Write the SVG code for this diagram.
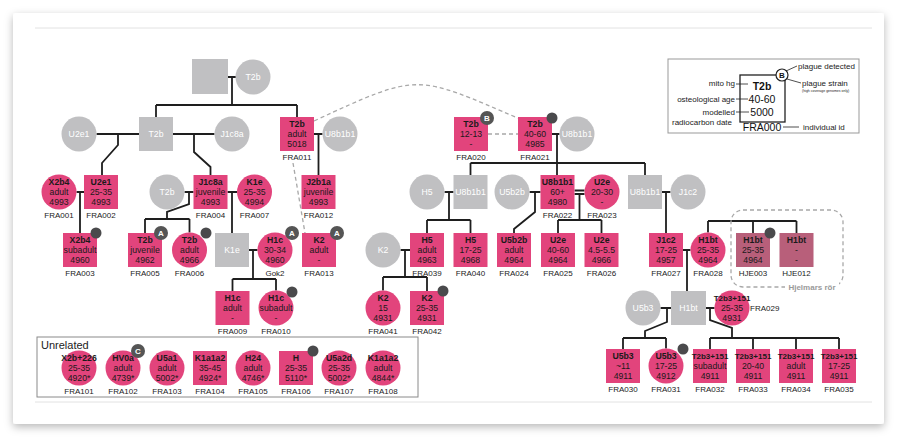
<svg xmlns="http://www.w3.org/2000/svg" width="897" height="440" viewBox="0 0 897 440">
<defs>
<filter id="sh" x="-5%" y="-5%" width="110%" height="115%"><feDropShadow dx="0" dy="3" stdDeviation="4" flood-color="#000" flood-opacity="0.28"/></filter>
</defs>
<style>
text{font-family:"Liberation Sans",Arial,sans-serif}
.t{font-size:8.7px;text-anchor:middle;fill:#1a1a1a}
.b{font-weight:bold}
.s{font-size:8px}
.g{fill:#c0c0c2}
.gt{font-size:8.7px;text-anchor:middle;fill:#fff}
.p{fill:#e2447c}
.h{fill:#b85f7a}
.l{font-size:8px;text-anchor:middle;fill:#222}
.dot{fill:#4a4a4c}
.bd{fill:#555}
.bt{font-size:8px;font-weight:bold;fill:#fff;text-anchor:middle}
.c path{stroke:#1e1e1e;stroke-width:1.8;fill:none}
.c path.ds{stroke:#a8a8a8;stroke-width:1.3;stroke-dasharray:4 3}
.lg{font-size:8px;fill:#222}
.ll{stroke:#222;stroke-width:0.8;fill:none}
</style>
<rect width="897" height="440" fill="#fff"/>
<rect x="13" y="13" width="871" height="411" rx="3" fill="#fff" filter="url(#sh)"/>
<line x1="35" y1="28" x2="872" y2="28" stroke="#e2e2e2" stroke-width="1"/>
<line x1="35" y1="402" x2="872" y2="402" stroke="#e2e2e2" stroke-width="1"/>

<g id="connectors" class="c">
<path d="M228,77H236M232,77V105M156,105H297M156,105V117M297,105V117"/>
<path d="M96.5,134H139M118,134V145L102,163V175"/>
<path d="M173,134H214.5M194,134V152L210.5,167V175"/>
<path d="M314,134H322.5M318.5,134V175"/>
<path class="ds" d="M293,163L305,233"/>
<path class="ds" d="M314,121C420,72 415,74 520,119"/>
<path class="ds" d="M488,134H518"/>
<path d="M552,134H559.5M557,134V175M470.5,163H645M470.5,163V175M645,163V175"/>
<path d="M76.5,192H84M80,192V233"/>
<path d="M184.5,192H193.5M189,192V204L167,212V219M145,219H189.5M145,219V233M189.5,219V232.5"/>
<path d="M227.5,192H237M232,192V233"/>
<path d="M249,250H257.5M253,250V279M232.5,279H276M232.5,279V291M276,279V290.5"/>
<path d="M444.5,192H453.5M449,192V220M427,220H470.5M427,220V233M470.5,220V233"/>
<path d="M529.5,192H540.5M535,192V212L514,229V233"/>
<path d="M574.5,190.5H584.5M574.5,194H584.5M579.5,194V220M558,220H601.5M558,220V233M601.5,220V233"/>
<path d="M662,192H670.5M666,192V233"/>
<path d="M683,250H690.5M687,250V291"/>
<path d="M708,221H796.5M708,221V232.5M753,221V233M796.5,221V233"/>
<path d="M400.5,250H410M405,250V277M383,277H427M383,277V290.5M427,277V291"/>
<path d="M660.5,308H671M667,308V322L645,331V338M623,338H666M623,338V349M666,338V348.5"/>
<path d="M706,308H714.5M710,308V320L732,328V338M710,338H839M710,338V349M753,338V349M796,338V349M839,338V349"/>
</g>

<g id="n-top-m"><rect class="g" x="192" y="59" width="36" height="35"/></g>
<g id="n-top-f"><circle class="g" cx="253" cy="77" r="17.5"/><text class="gt" x="253" y="80">T2b</text></g>

<g id="n-u2e1"><circle class="g" cx="79" cy="134" r="17.5"/><text class="gt" x="79" y="137">U2e1</text></g>
<g id="n-t2b-sq"><rect class="g" x="139" y="117" width="34" height="34"/><text class="gt" x="156" y="137">T2b</text></g>
<g id="n-j1c8a"><circle class="g" cx="232" cy="134" r="17.5"/><text class="gt" x="232" y="137">J1c8a</text></g>
<g id="FRA011"><rect class="p" x="280" y="117" width="34" height="34"/><text class="t b" x="297" y="127">T2b</text><text class="t" x="297" y="137">adult</text><text class="t" x="297" y="147">5018</text><text class="l" x="297" y="160">FRA011</text></g>
<g id="n-u8b1b1-a"><circle class="g" cx="340" cy="134" r="17.5"/><text class="gt" x="340" y="137">U8b1b1</text></g>
<g id="FRA020"><rect class="p" x="454" y="117" width="34" height="34"/><text class="t b" x="471" y="127">T2b</text><text class="t" x="471" y="137">12-13</text><text class="t" x="471" y="147">-</text><text class="l" x="471" y="160">FRA020</text><circle class="bd" cx="487" cy="118" r="7"/><text class="bt" x="487" y="121">B</text></g>
<g id="FRA021"><rect class="p" x="518" y="117" width="34" height="34"/><text class="t b" x="535" y="127">T2b</text><text class="t" x="535" y="137">40-60</text><text class="t" x="535" y="147">4985</text><text class="l" x="535" y="160">FRA021</text><circle class="dot" cx="552" cy="118" r="5.5"/></g>
<g id="n-u8b1b1-b"><circle class="g" cx="577" cy="134" r="17.5"/><text class="gt" x="577" y="137">U8b1b1</text></g>

<g id="FRA001"><circle class="p" cx="59" cy="192" r="17.5"/><text class="t b" x="59" y="185">X2b4</text><text class="t" x="59" y="195">adult</text><text class="t" x="59" y="205">4993</text><text class="l" x="59" y="218">FRA001</text></g>
<g id="FRA002"><rect class="p" x="84" y="175" width="34" height="34"/><text class="t b" x="101" y="185">U2e1</text><text class="t" x="101" y="195">25-35</text><text class="t" x="101" y="205">4993</text><text class="l" x="101" y="218">FRA002</text></g>
<g id="n-t2b-c"><circle class="g" cx="167" cy="192" r="17.5"/><text class="gt" x="167" y="195">T2b</text></g>
<g id="FRA004"><rect class="p" x="193.5" y="175" width="34" height="34"/><text class="t b" x="210.5" y="185">J1c8a</text><text class="t" x="210.5" y="195">juvenile</text><text class="t" x="210.5" y="205">4993</text><text class="l" x="210.5" y="218">FRA004</text></g>
<g id="FRA007"><circle class="p" cx="254.5" cy="192" r="17.5"/><text class="t b" x="254.5" y="185">K1e</text><text class="t" x="254.5" y="195">25-35</text><text class="t" x="254.5" y="205">4994</text><text class="l" x="254.5" y="218">FRA007</text></g>
<g id="FRA012"><rect class="p" x="301.5" y="175" width="34" height="34"/><text class="t b" x="318.5" y="185">J2b1a</text><text class="t" x="318.5" y="195">juvenile</text><text class="t" x="318.5" y="205">4993</text><text class="l" x="318.5" y="218">FRA012</text></g>
<g id="n-h5"><circle class="g" cx="427" cy="192" r="17.5"/><text class="gt" x="427" y="195">H5</text></g>
<g id="n-u8b1b1-sq1"><rect class="g" x="453.5" y="175" width="34" height="34"/><text class="gt" x="470.5" y="195">U8b1b1</text></g>
<g id="n-u5b2b"><circle class="g" cx="512" cy="192" r="17.5"/><text class="gt" x="512" y="195">U5b2b</text></g>
<g id="FRA022"><rect class="p" x="540.5" y="175" width="34" height="34"/><text class="t b" x="557.5" y="185">U8b1b1</text><text class="t" x="557.5" y="195">60+</text><text class="t" x="557.5" y="205">4980</text><text class="l" x="557.5" y="218">FRA022</text></g>
<g id="FRA023"><circle class="p" cx="602" cy="192" r="17.5"/><text class="t b" x="602" y="185">U2e</text><text class="t" x="602" y="195">20-30</text><text class="t" x="602" y="205">-</text><text class="l" x="602" y="218">FRA023</text></g>
<g id="n-u8b1b1-sq2"><rect class="g" x="628" y="175" width="34" height="34"/><text class="gt" x="645" y="195">U8b1b1</text></g>
<g id="n-j1c2"><circle class="g" cx="688" cy="192" r="17.5"/><text class="gt" x="688" y="195">J1c2</text></g>

<g id="FRA003"><rect class="p" x="63" y="233" width="34" height="34"/><text class="t b" x="80" y="243">X2b4</text><text class="t" x="80" y="253">subadult</text><text class="t" x="80" y="263">4960</text><text class="l" x="80" y="276">FRA003</text><circle class="dot" cx="96" cy="233" r="5.5"/></g>
<g id="FRA005"><rect class="p" x="128" y="233" width="34" height="34"/><text class="t b" x="145" y="243">T2b</text><text class="t" x="145" y="253">juvenile</text><text class="t" x="145" y="263">4962</text><text class="l" x="145" y="276">FRA005</text><circle class="bd" cx="161" cy="233" r="7"/><text class="bt" x="161" y="236">A</text></g>
<g id="FRA006"><circle class="p" cx="189.5" cy="250" r="17.5"/><text class="t b" x="189.5" y="243">T2b</text><text class="t" x="189.5" y="253">adult</text><text class="t" x="189.5" y="263">4966</text><text class="l" x="189.5" y="276">FRA006</text><circle class="dot" cx="206" cy="233" r="5.5"/></g>
<g id="n-k1e-sq"><rect class="g" x="215" y="233" width="34" height="34"/><text class="gt" x="232" y="253">K1e</text></g>
<g id="Gok2"><circle class="p" cx="275" cy="250" r="17.5"/><text class="t b" x="275" y="243">H1c</text><text class="t" x="275" y="253">30-34</text><text class="t" x="275" y="263">4960</text><text class="l" x="275" y="276">Gok2</text><circle class="bd" cx="292" cy="233" r="7"/><text class="bt" x="292" y="236">A</text></g>
<g id="FRA013"><rect class="p" x="302" y="233" width="34" height="34"/><text class="t b" x="319" y="243">K2</text><text class="t" x="319" y="253">adult</text><text class="t" x="319" y="263">-</text><text class="l" x="319" y="276">FRA013</text><circle class="bd" cx="337" cy="233" r="7"/><text class="bt" x="337" y="236">A</text></g>
<g id="n-k2"><circle class="g" cx="383" cy="250" r="17.5"/><text class="gt" x="383" y="253">K2</text></g>
<g id="FRA039"><rect class="p" x="410" y="233" width="34" height="34"/><text class="t b" x="427" y="243">H5</text><text class="t" x="427" y="253">adult</text><text class="t" x="427" y="263">4963</text><text class="l" x="427" y="276">FRA039</text></g>
<g id="FRA040"><rect class="p" x="453.5" y="233" width="34" height="34"/><text class="t b" x="470.5" y="243">H5</text><text class="t" x="470.5" y="253">17-25</text><text class="t" x="470.5" y="263">4968</text><text class="l" x="470.5" y="276">FRA040</text></g>
<g id="FRA024"><rect class="p" x="497" y="233" width="34" height="34"/><text class="t b" x="514" y="243">U5b2b</text><text class="t" x="514" y="253">adult</text><text class="t" x="514" y="263">4964</text><text class="l" x="514" y="276">FRA024</text></g>
<g id="FRA025"><rect class="p" x="541" y="233" width="34" height="34"/><text class="t b" x="558" y="243">U2e</text><text class="t" x="558" y="253">40-60</text><text class="t" x="558" y="263">4964</text><text class="l" x="558" y="276">FRA025</text></g>
<g id="FRA026"><rect class="p" x="584.5" y="233" width="34" height="34"/><text class="t b" x="601.5" y="243">U2e</text><text class="t" x="601.5" y="253">4.5-5.5</text><text class="t" x="601.5" y="263">4966</text><text class="l" x="601.5" y="276">FRA026</text></g>
<g id="FRA027"><rect class="p" x="649" y="233" width="34" height="34"/><text class="t b" x="666" y="243">J1c2</text><text class="t" x="666" y="253">17-25</text><text class="t" x="666" y="263">4957</text><text class="l" x="666" y="276">FRA027</text></g>
<g id="FRA028"><circle class="p" cx="708" cy="250" r="17.5"/><text class="t b" x="708" y="243">H1bt</text><text class="t" x="708" y="253">25-35</text><text class="t" x="708" y="263">4964</text><text class="l" x="708" y="276">FRA028</text></g>
<g id="hjelmars">
<rect x="731" y="210" width="112" height="77" rx="12" fill="none" stroke="#a8a8a8" stroke-width="1.3" stroke-dasharray="4 3"/>
<rect x="785" y="282" width="54" height="10" fill="#fff"/>
<text x="812" y="290" style="font-size:8px;font-weight:bold;fill:#9a9a9a;text-anchor:middle">Hjelmars rör</text>
</g>
<g id="HJE003"><rect class="h" x="736" y="233" width="34" height="34"/><text class="t b" x="753" y="243">H1bt</text><text class="t" x="753" y="253">25-35</text><text class="t" x="753" y="263">4964</text><text class="l" x="753" y="276">HJE003</text><circle class="dot" cx="770" cy="233" r="5.5"/></g>
<g id="HJE012"><rect class="h" x="779.5" y="233" width="34" height="34"/><text class="t b" x="796.5" y="243">H1bt</text><text class="t" x="796.5" y="253">-</text><text class="t" x="796.5" y="263">-</text><text class="l" x="796.5" y="276">HJE012</text></g>

<g id="FRA009"><rect class="p" x="215.5" y="291" width="34" height="34"/><text class="t b" x="232.5" y="301">H1c</text><text class="t" x="232.5" y="311">adult</text><text class="t" x="232.5" y="321">-</text><text class="l" x="232.5" y="334">FRA009</text></g>
<g id="FRA010"><circle class="p" cx="276" cy="308" r="17.5"/><text class="t b" x="276" y="301">H1c</text><text class="t" x="276" y="311">subadult</text><text class="t" x="276" y="321">-</text><text class="l" x="276" y="334">FRA010</text><circle class="dot" cx="292" cy="292" r="5.5"/></g>
<g id="FRA041"><circle class="p" cx="383" cy="308" r="17.5"/><text class="t b" x="383" y="301">K2</text><text class="t" x="383" y="311">15</text><text class="t" x="383" y="321">4931</text><text class="l" x="383" y="334">FRA041</text></g>
<g id="FRA042"><rect class="p" x="410" y="291" width="34" height="34"/><text class="t b" x="427" y="301">K2</text><text class="t" x="427" y="311">25-35</text><text class="t" x="427" y="321">4931</text><text class="l" x="427" y="334">FRA042</text><circle class="dot" cx="443" cy="291" r="5.5"/></g>
<g id="n-u5b3"><circle class="g" cx="643" cy="308" r="17.5"/><text class="gt" x="643" y="311">U5b3</text></g>
<g id="n-h1bt-sq"><rect class="g" x="671" y="291" width="35" height="34"/><text class="gt" x="688.5" y="311">H1bt</text></g>
<g id="FRA029"><circle class="p" cx="732" cy="308" r="17.5"/><text class="t b s" x="732" y="301">T2b3+151</text><text class="t" x="732" y="311">25-35</text><text class="t" x="732" y="321">4931</text><text class="l" x="750" y="311" style="text-anchor:start">FRA029</text></g>

<g id="FRA030"><rect class="p" x="606" y="349" width="34" height="34"/><text class="t b" x="623" y="359">U5b3</text><text class="t" x="623" y="369">~11</text><text class="t" x="623" y="379">4911</text><text class="l" x="623" y="392">FRA030</text></g>
<g id="FRA031"><circle class="p" cx="666" cy="366" r="17.5"/><text class="t b" x="666" y="359">U5b3</text><text class="t" x="666" y="369">17-25</text><text class="t" x="666" y="379">4912</text><text class="l" x="666" y="392">FRA031</text><circle class="dot" cx="683" cy="349" r="5.5"/></g>
<g id="FRA032"><rect class="p" x="693" y="349" width="34" height="34"/><text class="t b s" x="710" y="359">T2b3+151</text><text class="t" x="710" y="369">subadult</text><text class="t" x="710" y="379">4911</text><text class="l" x="710" y="392">FRA032</text></g>
<g id="FRA033"><rect class="p" x="736" y="349" width="34" height="34"/><text class="t b s" x="753" y="359">T2b3+151</text><text class="t" x="753" y="369">20-40</text><text class="t" x="753" y="379">4911</text><text class="l" x="753" y="392">FRA033</text></g>
<g id="FRA034"><rect class="p" x="779" y="349" width="34" height="34"/><text class="t b s" x="796" y="359">T2b3+151</text><text class="t" x="796" y="369">adult</text><text class="t" x="796" y="379">4911</text><text class="l" x="796" y="392">FRA034</text></g>
<g id="FRA035"><rect class="p" x="822" y="349" width="34" height="34"/><text class="t b s" x="839" y="359">T2b3+151</text><text class="t" x="839" y="369">17-25</text><text class="t" x="839" y="379">4911</text><text class="l" x="839" y="392">FRA035</text></g>

<g id="unrelated">
<rect x="37" y="337" width="381" height="60" fill="none" stroke="#8a8a8a" stroke-width="1"/>
<text x="41" y="349" style="font-size:11px;fill:#222">Unrelated</text>
</g>
<g id="FRA101"><circle class="p" cx="79" cy="368" r="17.5"/><text class="t b" x="79" y="361">X2b+226</text><text class="t" x="79" y="371">25-35</text><text class="t" x="79" y="381">4920*</text><text class="l" x="79" y="394">FRA101</text></g>
<g id="FRA102"><circle class="p" cx="123" cy="368" r="17.5"/><text class="t b" x="123" y="361">HV0a</text><text class="t" x="123" y="371">adult</text><text class="t" x="123" y="381">4739*</text><text class="l" x="123" y="394">FRA102</text><circle class="bd" cx="138" cy="351" r="7"/><text class="bt" x="138" y="354">C</text></g>
<g id="FRA103"><circle class="p" cx="167" cy="368" r="17.5"/><text class="t b" x="167" y="361">U5a1</text><text class="t" x="167" y="371">adult</text><text class="t" x="167" y="381">5002*</text><text class="l" x="167" y="394">FRA103</text></g>
<g id="FRA104"><rect class="p" x="193" y="351" width="34" height="34"/><text class="t b" x="210" y="361">K1a1a2</text><text class="t" x="210" y="371">35-45</text><text class="t" x="210" y="381">4924*</text><text class="l" x="210" y="394">FRA104</text></g>
<g id="FRA105"><circle class="p" cx="253" cy="368" r="17.5"/><text class="t b" x="253" y="361">H24</text><text class="t" x="253" y="371">adult</text><text class="t" x="253" y="381">4746*</text><text class="l" x="253" y="394">FRA105</text></g>
<g id="FRA106"><rect class="p" x="279" y="351" width="34" height="34"/><text class="t b" x="296" y="361">H</text><text class="t" x="296" y="371">25-35</text><text class="t" x="296" y="381">5110*</text><text class="l" x="296" y="394">FRA106</text><circle class="dot" cx="313" cy="351" r="5.5"/></g>
<g id="FRA107"><circle class="p" cx="339" cy="368" r="17.5"/><text class="t b" x="339" y="361">U5a2d</text><text class="t" x="339" y="371">25-35</text><text class="t" x="339" y="381">5002*</text><text class="l" x="339" y="394">FRA107</text></g>
<g id="FRA108"><circle class="p" cx="383" cy="368" r="17.5"/><text class="t b" x="383" y="361">K1a1a2</text><text class="t" x="383" y="371">adult</text><text class="t" x="383" y="381">4844*</text><text class="l" x="383" y="394">FRA108</text></g>

<g id="legend">
<rect x="668" y="59" width="191" height="74" fill="#fff" stroke="#999" stroke-width="1"/>
<rect x="740" y="75" width="45" height="47" fill="none" stroke="#222" stroke-width="1.3"/>
<text x="762" y="90" style="font-size:10.5px;font-weight:bold;fill:#111;text-anchor:middle">T2b</text>
<text x="762" y="103" style="font-size:10.5px;fill:#111;text-anchor:middle">40-60</text>
<text x="762" y="116" style="font-size:10.5px;fill:#111;text-anchor:middle">5000</text>
<text x="762" y="131" style="font-size:10.5px;fill:#111;text-anchor:middle">FRA000</text>
<circle cx="782" cy="75" r="6" fill="#fff" stroke="#222" stroke-width="1.2"/>
<text x="782" y="78" style="font-size:8px;font-weight:bold;fill:#111;text-anchor:middle">B</text>
<path class="ll" d="M786,71L797,66M787,79L801,83M736,84H748M736,99H748M736,112H749M783,127H799"/>
<text class="lg" x="798" y="69">plague detected</text>
<text class="lg" x="802" y="86">plague strain</text>
<text x="802" y="92" style="font-size:3.5px;fill:#222">(high coverage genomes only)</text>
<text class="lg" x="735" y="86" style="text-anchor:end">mito hg</text>
<text class="lg" x="735" y="102" style="text-anchor:end">osteological age</text>
<text class="lg" x="735" y="115" style="text-anchor:end">modelled</text>
<text class="lg" x="672" y="125">radiocarbon date</text>
<text class="lg" x="803" y="130">individual id</text>
</g>
</svg>
